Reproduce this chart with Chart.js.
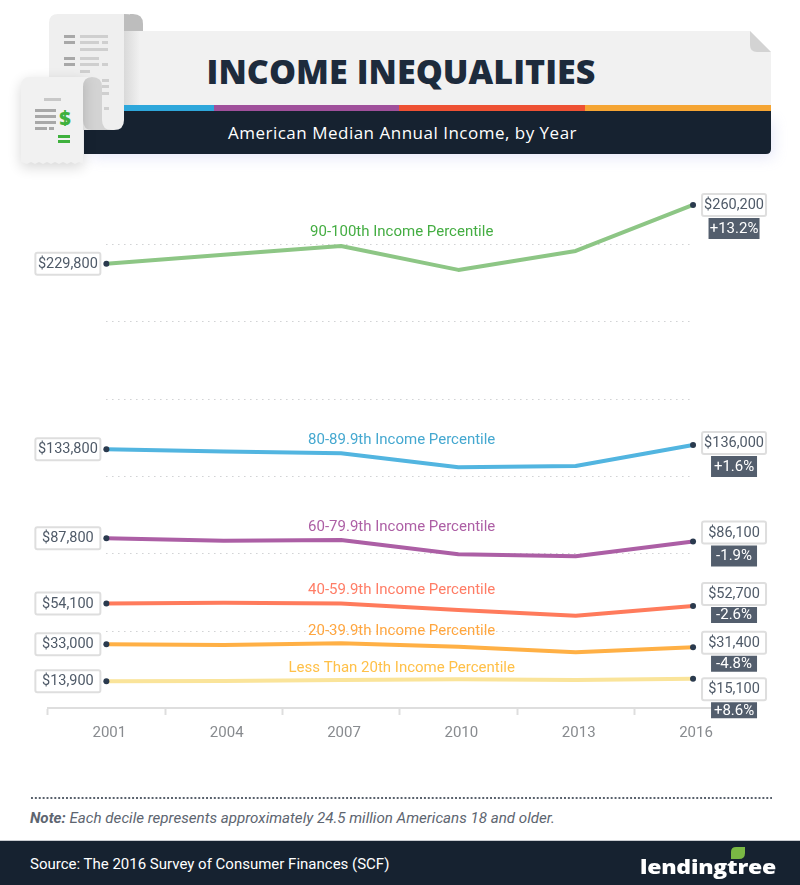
<!DOCTYPE html>
<html><head><meta charset="utf-8">
<script src="https://cdn.jsdelivr.net/npm/chart.js@4/dist/chart.umd.js"></script>
<style>
html,body{margin:0;padding:0;background:#fff;width:800px;height:885px;overflow:hidden}
#page{position:relative;width:800px;height:885px;overflow:hidden}
.abs{position:absolute;white-space:nowrap}
#chart{position:absolute;left:0;top:0}
</style></head><body>
<div id="page">
<svg class="abs" style="left:0;top:0" width="800" height="200" viewBox="0 0 800 200">
 <defs>
  <filter id="sh" x="-20%" y="-30%" width="140%" height="170%"><feGaussianBlur stdDeviation="7"/></filter>
  <linearGradient id="rollShade" x1="0" x2="1" y1="0" y2="0"><stop offset="0" stop-color="#cfcfcf"/><stop offset="1" stop-color="#f1f1f1"/></linearGradient>
 </defs>
 <rect x="90" y="120" width="684" height="38" rx="4" fill="#aab0e8" opacity=".28" filter="url(#sh)"/>
 <path d="M124 31H750L771 52V105H124Z" fill="#f1f1f1"/>
 <path d="M750 31L771 52H757Q750 52 750 45Z" fill="#d3d3d3"/>
 <rect x="124" y="105" width="90" height="6" fill="#2ea7db"/>
 <rect x="214" y="105" width="185" height="6" fill="#a0509b"/>
 <rect x="399" y="105" width="186" height="6" fill="#ee5133"/>
 <rect x="585" y="105" width="186" height="6" fill="#f5a533"/>
 <path d="M84 111H771V149Q771 154 766 154H84Z" fill="#162230"/>
 <rect x="124" y="31" width="16" height="74" fill="url(#rollShade)" opacity=".7"/>
 <path d="M124 31V14H133Q143 14 143 24V31Z" fill="#bdbdbd"/>
 <path d="M58 14H130V31H124V120Q124 130 114 130H49V23Q49 14 58 14Z" fill="#efefef"/>
 <path d="M124 14Q143 14 143 31H124Z" fill="#bdbdbd"/>
 <g fill="#a8a8a8"><rect x="64" y="35" width="11" height="3"/><rect x="64" y="41" width="11" height="3"/><rect x="64" y="57" width="11" height="3"/><rect x="64" y="63" width="11" height="3"/></g>
 <g fill="#cfcfcf"><rect x="80" y="35" width="28" height="3"/><rect x="80" y="41" width="19" height="3"/><rect x="102" y="41" width="6" height="3"/><rect x="80" y="48" width="28" height="3"/><rect x="80" y="57" width="19" height="3"/><rect x="80" y="63" width="19" height="3"/><rect x="102" y="63" width="6" height="3"/><rect x="80" y="70" width="10" height="3"/><rect x="102" y="79" width="7" height="3"/><rect x="102" y="85" width="7" height="3"/><rect x="102" y="92" width="7" height="3"/><rect x="104" y="107" width="5" height="3"/></g>
 <path d="M83 77H92Q102 77 102 87V120Q102 130 112 130H92Q83 130 83 120Z" fill="#d3d3d3"/>
 <path d="M30 77H92Q83 77 83 87V164L79 162L75 164L71 162L67 164L63 162L59 164L55 162L51 164L47 162L43 164L39 162L35 164L31 162L27 164L21 162V86Q21 77 30 77Z" fill="#000" opacity=".16" filter="url(#sh)" transform="translate(0 4)"/>
 <path d="M30 77H92Q83 77 83 87V164L79 162L75 164L71 162L67 164L63 162L59 164L55 162L51 164L47 162L43 164L39 162L35 164L31 162L27 164L21 162V86Q21 77 30 77Z" fill="#f1f1f1"/>
 <rect x="44" y="98" width="17" height="3" fill="#c8c8c8"/>
 <g fill="#a8a8a8"><rect x="35" y="109" width="21" height="3"/><rect x="35" y="115" width="21" height="3"/><rect x="35" y="121" width="21" height="3"/><rect x="35" y="127" width="12" height="3"/><rect x="49" y="127" width="5" height="3"/></g>
 <rect x="58" y="135" width="12" height="3" fill="#3fb13d"/><rect x="58" y="140" width="12" height="3" fill="#3fb13d"/>
 <text x="65" y="125" text-anchor="middle" font-family="'Open Sans'" font-weight="800" font-size="20" fill="#3fb13d">$</text>
</svg>
<div class="abs" style="left:124px;width:554px;top:47px;text-align:center;font:800 34px/48px 'Open Sans';color:#1d2b3c;letter-spacing:.05px">INCOME INEQUALITIES</div>
<div class="abs" style="left:84px;width:637px;top:120px;text-align:center;font:500 17px/26px 'Open Sans';color:#fff;letter-spacing:.5px">American Median Annual Income, by Year</div>
<canvas id="chart" width="800" height="760"></canvas>
<div class="abs" style="left:30px;top:796.5px;width:742px;height:2px;background-image:radial-gradient(circle,#59616c 0.8px,transparent 1px);background-size:3.9px 2px;background-repeat:repeat-x"></div>
<div class="abs" style="left:30px;top:808px;font:italic 400 15.15px/20px Roboto;color:#5d6570"><b>Note:</b> Each decile represents approximately 24.5 million Americans 18 and older.</div>
<div class="abs" style="left:0;top:840px;width:800px;height:1px;background:#c9ccd0"></div>
<div class="abs" style="left:0;top:841px;width:800px;height:44px;background:#162230"></div>
<div class="abs" style="left:30px;top:853px;font:400 15px/22px Roboto;color:#fff">Source: The 2016 Survey of Consumer Finances (SCF)</div>
<svg class="abs" style="left:725px;top:845px" width="30" height="16" viewBox="0 0 30 16"><path d="M6 14V7Q6 2 11 2H20V8Q20 14 14 14Z" fill="#7ab844"/></svg>
<div class="abs" style="left:640px;top:852px;font:800 20px/30px 'Open Sans';color:#fff;letter-spacing:-.2px;transform-origin:0 50%;transform:scaleX(1.15)">lendingtree</div>
</div>
<script>
const categories = ['2001','2004','2007','2010','2013','2016'];
const seriesNames = ['90-100th Income Percentile','80-89.9th Income Percentile','60-79.9th Income Percentile','40-59.9th Income Percentile','20-39.9th Income Percentile','Less Than 20th Income Percentile'];
const top10 = [229800,234500,239000,226600,236400,260200];
const p80 = [133800,132700,131800,124500,125200,136000];
const p60 = [87800,86500,86900,79500,78500,86100];
const p40 = [54100,54500,54000,50700,47700,52700];
const p20 = [33000,32600,33500,31700,28800,31400];
const bottom20 = [13900,14000,14500,14900,14500,15100];
const changes = ['+13.2%','+1.6%','-1.9%','-2.6%','-4.8%','+8.6%'];
const lineColors = ['#8dc685','#52b5e0','#ac5fa5','#ff7b5c','#ffb045','#fae49a'];
const nameColors = ['#44ad42','#45a8d0','#ad5fa5','#ff7d66','#ffa63f','#ffc048'];
const nameRise = [13.5,12.5,12.5,13.5,11.5,11.5];
const rightBoxShift = [0,-2,-9,-12,-4.5,10.5];
const allSeries = [top10,p80,p60,p40,p20,bottom20];
const money = v => '$' + v.toLocaleString('en-US');
const nameFont = '15px Roboto';
const valueFont = '14.5px Roboto';

function box(ctx, cx, cy, w, h, fill, stroke, text, color, font){
  const x = cx - w/2, y = cy - h/2;
  ctx.fillStyle = fill;
  ctx.beginPath(); ctx.roundRect(x, y, w, h, stroke ? 2 : 0); ctx.fill();
  if (stroke){ ctx.strokeStyle = stroke; ctx.lineWidth = 2; ctx.stroke(); }
  ctx.fillStyle = color; ctx.font = font;
  ctx.textAlign = 'center'; ctx.textBaseline = 'middle';
  ctx.fillText(text, cx, cy + 0.5);
}

const gridPlugin = {
  id: 'dottedGrid',
  beforeDatasetsDraw(chart){
    const {ctx, scales:{x, y}} = chart;
    ctx.save();
    ctx.strokeStyle = '#b9bbbe'; ctx.lineWidth = 1; ctx.setLineDash([1,5]);
    y.ticks.forEach(t => {
      if (t.value === 0) return;
      const py = Math.round(y.getPixelForValue(t.value)) + .5;
      ctx.beginPath(); ctx.moveTo(x.getPixelForValue(0), py); ctx.lineTo(x.getPixelForValue(5), py); ctx.stroke();
    });
    ctx.restore();
  }
};
const labelPlugin = {
  id: 'seriesLabels',
  afterDatasetsDraw(chart){
    const {ctx, scales:{x, y}} = chart;
    ctx.save();
    allSeries.forEach((vals, i) => {
      const xL = x.getPixelForValue(0), xR = x.getPixelForValue(5);
      const midX = (x.getPixelForValue(2) + x.getPixelForValue(3)) / 2 + 2;
      ctx.fillStyle = nameColors[i]; ctx.font = nameFont;
      ctx.textAlign = 'center'; ctx.textBaseline = 'middle';
      ctx.fillText(seriesNames[i], midX, y.getPixelForValue(vals[2]) - nameRise[i]);
      box(ctx, xL - 38.5, y.getPixelForValue(vals[0]), 65, 22, '#fff', '#dedede', money(vals[0]), '#4f5a68', valueFont);
      const ry = y.getPixelForValue(vals[5]) + rightBoxShift[i];
      const dh = i < 3 ? 21 : 16, dw = i === 0 ? 51 : 46;
      box(ctx, xR + 41, ry + 13 + dh/2, dw, dh, '#535e6d', null, changes[i], '#fff', '400 15px Roboto');
      box(ctx, xR + 41, ry, 64, 22, '#fff', '#dedede', money(vals[5]), '#4f5a68', valueFont);
    });
    ctx.restore();
  }
};

new Chart(document.getElementById('chart'), {
  type: 'line',
  data: {
    labels: categories,
    datasets: allSeries.map((vals, i) => ({
      label: seriesNames[i],
      data: vals,
      borderColor: lineColors[i],
      backgroundColor: lineColors[i],
      borderWidth: 4,
      borderJoinStyle: 'round',
      tension: 0,
      fill: false,
      pointRadius: c => (c.dataIndex === 0 || c.dataIndex === 5) ? 3 : 0,
      pointBackgroundColor: '#2a3a4e',
      pointBorderWidth: 0
    }))
  },
  options: {
    responsive: false,
    animation: false,
    devicePixelRatio: 1,
    layout: { padding: { left: 47.7, right: 48.3, top: 166.67, bottom: 0 } },
    plugins: { legend: { display: false }, tooltip: { enabled: false }, title: { display: false } },
    scales: {
      x: {
        offset: true,
        grid: { offset: true, drawOnChartArea: false, drawTicks: true, tickLength: 7, tickColor: '#dedede', tickWidth: 2 },
        border: { color: '#dedede', width: 2 },
        ticks: { color: '#888b8f', font: { family: 'Roboto', size: 15 }, padding: 9, maxRotation: 0, autoSkip: false, labelOffset: 3 },
        afterFit: s => { s.height = 52; }
      },
      y: {
        display: false,
        min: 0, max: 280000,
        ticks: { stepSize: 40000 },
        afterBuildTicks: s => { s.ticks = s.ticks.filter(t => t.value <= 240000); }
      }
    }
  },
  plugins: [gridPlugin, labelPlugin]
});
</script>
</body></html>
